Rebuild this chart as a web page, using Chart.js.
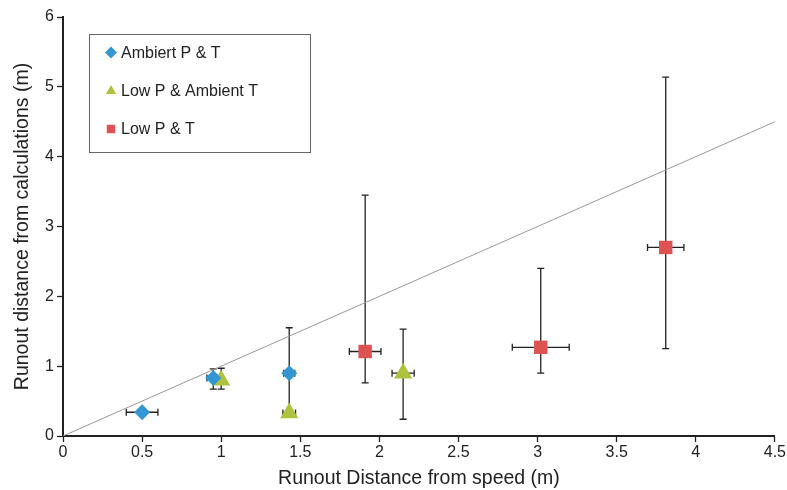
<!DOCTYPE html>
<html>
<head>
<meta charset="utf-8">
<script src="https://cdn.jsdelivr.net/npm/chart.js@4"></script>
<style>
  html, body { margin: 0; padding: 0; background: #fff; }
  #wrap { width: 787px; height: 490px; }
</style>
</head>
<body>
<div id="wrap"><canvas id="c" width="787" height="490"></canvas></div>
<script>
// ---- data ----
const ambientX    = [0.5, 0.95, 1.43];
const ambientY    = [0.34, 0.83, 0.9];
const ambientXErr = [0.1, 0.04, 0.035];
const ambientYLo  = [0.34, 0.67, 0.35];
const ambientYHi  = [0.34, 0.96, 1.55];

const lowPX    = [1.0, 1.43, 2.15];
const lowPY    = [0.8, 0.33, 0.9];
const lowPXErr = [0, 0.04, 0.07];
const lowPYLo  = [0.67, 0.33, 0.24];
const lowPYHi  = [0.97, 0.33, 1.53];

const lowPTX    = [1.91, 3.02, 3.81];
const lowPTY    = [1.21, 1.27, 2.7];
const lowPTXErr = [0.1, 0.18, 0.115];
const lowPTYLo  = [0.76, 0.9, 1.25];
const lowPTYHi  = [3.45, 2.4, 5.14];

const lineX = [0, 4.5];
const lineY = [0, 4.5];

const seriesLabels = ["Ambiert P & T", "Low P & Ambient T", "Low P & T"];

const toPts = (xs, ys) => xs.map((x, i) => ({ x: x, y: ys[i] }));

const errorBars = {
  id: "errorBars",
  beforeDatasetsDraw(chart) {
    const ctx = chart.ctx;
    const xs = chart.scales.x, ys = chart.scales.y;
    const cap = 3.5;
    ctx.save();
    ctx.strokeStyle = "#222";
    ctx.lineWidth = 1.3;
    chart.data.datasets.forEach(ds => {
      if (!ds.err) return;
      ds.data.forEach((p, i) => {
        const px = xs.getPixelForValue(p.x);
        const py = ys.getPixelForValue(p.y);
        const lo = ys.getPixelForValue(ds.err.yLo[i]);
        const hi = ys.getPixelForValue(ds.err.yHi[i]);
        if (Math.abs(lo - hi) > 0.5) {
          ctx.beginPath();
          ctx.moveTo(px, lo); ctx.lineTo(px, hi);
          ctx.moveTo(px - cap, lo); ctx.lineTo(px + cap, lo);
          ctx.moveTo(px - cap, hi); ctx.lineTo(px + cap, hi);
          ctx.stroke();
        }
        const dx = ds.err.xErr[i];
        if (dx > 0) {
          const l = xs.getPixelForValue(p.x - dx);
          const r = xs.getPixelForValue(p.x + dx);
          ctx.beginPath();
          ctx.moveTo(l, py); ctx.lineTo(r, py);
          ctx.moveTo(l, py - cap); ctx.lineTo(l, py + cap);
          ctx.moveTo(r, py - cap); ctx.lineTo(r, py + cap);
          ctx.stroke();
        }
      });
    });
    ctx.restore();
  }
};

// legend box drawn inside the plot, like the original
const boxLegend = {
  id: "boxLegend",
  afterDraw(chart) {
    const ctx = chart.ctx;
    ctx.save();
    ctx.strokeStyle = "#666";
    ctx.lineWidth = 1;
    ctx.strokeRect(89.5, 34.5, 221, 118);
    ctx.font = "16px 'Liberation Sans', Arial, sans-serif";
    ctx.fillStyle = "#222";
    ctx.textBaseline = "middle";
    const rows = [52.5, 91, 129];
    chart.data.datasets.slice(0, 3).forEach((ds, i) => {
      ctx.fillStyle = ds.backgroundColor;
      Chart.helpers.drawPoint(ctx, { pointStyle: ds.pointStyle, radius: 6, borderWidth: 0 }, 111, rows[i]);
      ctx.fillStyle = "#222";
      ctx.fillText(seriesLabels[i], 121, rows[i] + 1);
    });
    ctx.restore();
  }
};

const tickFont = { family: "'Liberation Sans', Arial, sans-serif", size: 16 };
const titleFont = { family: "'Liberation Sans', Arial, sans-serif", size: 19.5 };

new Chart(document.getElementById("c"), {
  type: "scatter",
  data: {
    datasets: [
      {
        label: seriesLabels[0],
        data: toPts(ambientX, ambientY),
        err: { xErr: ambientXErr, yLo: ambientYLo, yHi: ambientYHi },
        pointStyle: "rectRot",
        pointRadius: 8,
        backgroundColor: "#3497d1",
        borderWidth: 0
      },
      {
        label: seriesLabels[1],
        data: toPts(lowPX, lowPY),
        err: { xErr: lowPXErr, yLo: lowPYLo, yHi: lowPYHi },
        pointStyle: "triangle",
        pointRadius: 10.5,
        backgroundColor: "#afc23e",
        borderWidth: 0
      },
      {
        label: seriesLabels[2],
        data: toPts(lowPTX, lowPTY),
        err: { xErr: lowPTXErr, yLo: lowPTYLo, yHi: lowPTYHi },
        pointStyle: "rect",
        pointRadius: 9.5,
        backgroundColor: "#dd5353",
        borderWidth: 0
      },
      {
        label: "1:1",
        type: "line",
        data: toPts(lineX, lineY),
        borderColor: "#999",
        borderWidth: 1,
        pointRadius: 0,
        fill: false,
        order: 10
      }
    ]
  },
  options: {
    responsive: false,
    animation: false,
    layout: { padding: { left: 11, right: 10, top: 17, bottom: 0 } },
    plugins: {
      legend: { display: false },
      tooltip: { enabled: false }
    },
    scales: {
      x: {
        type: "linear",
        min: 0, max: 4.5,
        ticks: { stepSize: 0.5, color: "#222", font: tickFont, padding: 1, maxRotation: 0, callback: v => String(v) },
        grid: { drawOnChartArea: false, color: "#222", tickLength: 6, tickWidth: 1.3 },
        border: { color: "#222", width: 2 },
        title: { display: true, text: "Runout Distance from speed (m)", color: "#222", font: titleFont, padding: { top: 4, bottom: 0 } },
        afterFit(s) { s.height = 490 - 436; }
      },
      y: {
        min: 0, max: 6,
        ticks: { stepSize: 1, color: "#222", font: tickFont, padding: 3, callback: v => String(v) },
        grid: { drawOnChartArea: false, color: "#222", tickLength: 6, tickWidth: 1.3 },
        border: { color: "#222", width: 2 },
        title: { display: true, text: "Runout distance from calculations (m)", color: "#222", font: titleFont, padding: { top: 0, bottom: 6 } },
        afterFit(s) { s.width = 63 - 11; }
      }
    }
  },
  plugins: [errorBars, boxLegend]
});
</script>
</body>
</html>
